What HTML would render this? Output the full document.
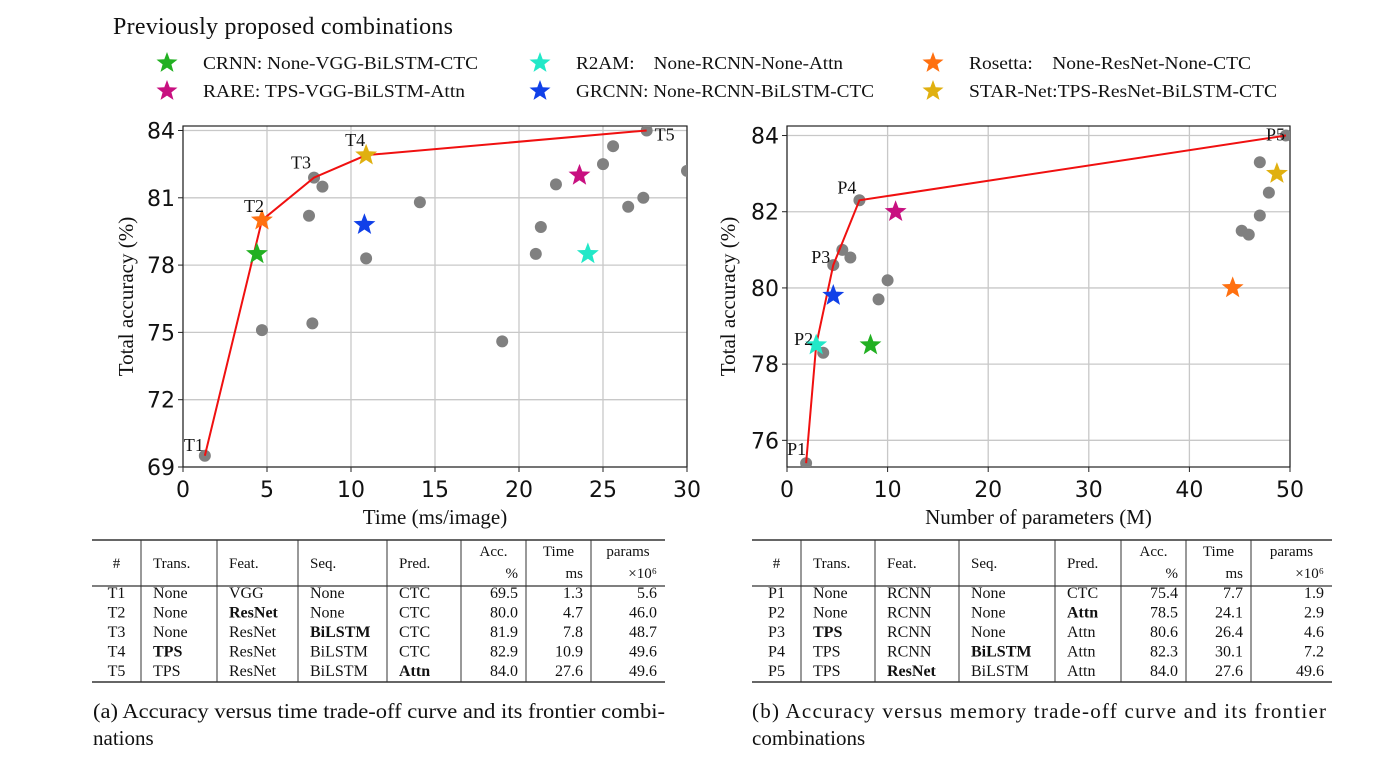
<!DOCTYPE html>
<html><head><meta charset="utf-8">
<style>
html,body{margin:0;padding:0;background:#fff;}
svg{display:block;}
.serif{font-family:"Liberation Serif",serif;}
.sans{font-family:"DejaVu Sans","Liberation Sans",sans-serif;}
</style></head>
<body>
<svg id="root" width="1398" height="763" viewBox="0 0 1398 763" xmlns="http://www.w3.org/2000/svg">
<g id="legend"></g>
<g id="chartA"></g>
<g id="chartB"></g>
<g id="tables"></g>
</svg>
<script>
// ---------- data ----------
const legendNames = ["CRNN: None-VGG-BiLSTM-CTC","R2AM:    None-RCNN-None-Attn","Rosetta:    None-ResNet-None-CTC","RARE: TPS-VGG-BiLSTM-Attn","GRCNN: None-RCNN-BiLSTM-CTC","STAR-Net:TPS-ResNet-BiLSTM-CTC"];
const legendColors = ["#22b022","#22e8c8","#ff7010","#c81080","#1040e8","#e0b010"];

// Chart A: time vs accuracy
const aTicksX = [0,5,10,15,20,25,30];
const aTicksY = [69,72,75,78,81,84];
const aDotsX = [1.3,4.7,7.7,7.5,7.8,8.3,10.9,14.1,19.0,21.0,21.3,22.2,25.0,25.6,27.6,27.4,26.5,30.0];
const aDotsY = [69.5,75.1,75.4,80.2,81.9,81.5,78.3,80.8,74.6,78.5,79.7,81.6,82.5,83.3,84.0,81.0,80.6,82.2];
const aFrontX = [1.3,4.7,7.8,10.9,27.6];
const aFrontY = [69.5,80.0,81.9,82.9,84.0];
const aFrontLabels = ["T1","T2","T3","T4","T5"];
// stars order: CRNN, R2AM, Rosetta, RARE, GRCNN, STAR-Net
const aStarX = [4.4,24.1,4.7,23.6,10.8,10.9];
const aStarY = [78.5,78.5,80.0,82.0,79.8,82.9];

// Chart B: params vs accuracy
const bTicksX = [0,10,20,30,40,50];
const bTicksY = [76,78,80,82,84];
const bDotsX = [1.9,3.6,4.6,5.5,6.3,7.2,9.1,10.0,45.2,45.9,47.0,47.0,47.9,49.6];
const bDotsY = [75.4,78.3,80.6,81.0,80.8,82.3,79.7,80.2,81.5,81.4,81.9,83.3,82.5,84.0];
const bFrontX = [1.9,2.9,4.6,7.2,49.6];
const bFrontY = [75.4,78.5,80.6,82.3,84.0];
const bFrontLabels = ["P1","P2","P3","P4","P5"];
const bStarX = [8.3,2.9,44.3,10.8,4.6,48.7];
const bStarY = [78.5,78.5,80.0,82.0,79.8,83.0];

const tableHeader = ["#","Trans.","Feat.","Seq.","Pred.","Acc.|%","Time|ms","params|×10⁶"];
const tableA = [
 ["T1","None","VGG","None","CTC","69.5","1.3","5.6"],
 ["T2","None","*ResNet","None","CTC","80.0","4.7","46.0"],
 ["T3","None","ResNet","*BiLSTM","CTC","81.9","7.8","48.7"],
 ["T4","*TPS","ResNet","BiLSTM","CTC","82.9","10.9","49.6"],
 ["T5","TPS","ResNet","BiLSTM","*Attn","84.0","27.6","49.6"]];
const tableB = [
 ["P1","None","RCNN","None","CTC","75.4","7.7","1.9"],
 ["P2","None","RCNN","None","*Attn","78.5","24.1","2.9"],
 ["P3","*TPS","RCNN","None","Attn","80.6","26.4","4.6"],
 ["P4","TPS","RCNN","*BiLSTM","Attn","82.3","30.1","7.2"],
 ["P5","TPS","*ResNet","BiLSTM","Attn","84.0","27.6","49.6"]];

// ---------- helpers ----------
const NS="http://www.w3.org/2000/svg";
function mk(tag,attrs,parent){const e=document.createElementNS(NS,tag);for(const k in attrs)e.setAttribute(k,attrs[k]);parent.appendChild(e);return e;}
function txt(s,attrs,parent){const e=mk("text",attrs,parent);e.textContent=s;return e;}
function starPts(cx,cy,R){const r=R*0.42;let p=[];for(let i=0;i<10;i++){const a=-Math.PI/2+i*Math.PI/5;const rr=i%2?r:R;p.push((cx+rr*Math.cos(a)).toFixed(1)+","+(cy+rr*Math.sin(a)).toFixed(1));}return p.join(" ");}

// ---------- legend ----------
const L=document.getElementById("legend");
let t=txt("Previously proposed combinations",{x:113,y:34,"font-size":24,class:"serif",fill:"#111",textLength:340},L);


const legX=[167,540,933], legY=[63,91];
const legLen=[275,267,282,262,298,308];
legendNames.forEach((n,i)=>{
  const cx=legX[i%3], cy=legY[Math.floor(i/3)];
  const g=mk("g",{},L);
  
  
  mk("polygon",{points:starPts(cx,cy,11),fill:legendColors[i]},g);
  const e=txt(n,{x:cx+36,y:cy+6,"font-size":18,class:"serif",fill:"#111",textLength:legLen[i],lengthAdjust:"spacingAndGlyphs"},g);
  e.style.whiteSpace="pre";
});

// ---------- charts ----------
function chart(gid,cfg){
  const G=document.getElementById(gid);
  const {x0,x1,y0,y1,xmin,xmax,ymin,ymax}=cfg;
  const sx=v=>x0+(v-xmin)/(xmax-xmin)*(x1-x0);
  const sy=v=>y0-(v-ymin)/(ymax-ymin)*(y0-y1);
  const clipId=gid+"clip";
  const defs=mk("defs",{},G);const cp=mk("clipPath",{id:clipId},defs);mk("rect",{x:x0,y:y1,width:x1-x0,height:y0-y1},cp);
  cfg.ticksX.forEach(v=>{
    const l=mk("line",{x1:sx(v),x2:sx(v),y1:y1,y2:y0,stroke:"#c8c8c8","stroke-width":1.3},G);
    
    
    mk("line",{x1:sx(v),x2:sx(v),y1:y0,y2:y0+5,stroke:"#222"},G);
    const tt=txt(String(v),{x:sx(v),y:y0+30,"font-size":22,"text-anchor":"middle",class:"sans",fill:"#111"},G);
    
    
  });
  cfg.ticksY.forEach(v=>{
    const l=mk("line",{x1:x0,x2:x1,y1:sy(v),y2:sy(v),stroke:"#c8c8c8","stroke-width":1.3},G);
    
    
    mk("line",{x1:x0-5,x2:x0,y1:sy(v),y2:sy(v),stroke:"#222"},G);
    const tt=txt(String(v),{x:x0-8,y:sy(v)+8,"font-size":22,"text-anchor":"end",class:"sans",fill:"#111"},G);
    
    
  });
  const fr=mk("rect",{x:x0,y:y1,width:x1-x0,height:y0-y1,fill:"none",stroke:"#222","stroke-width":1.2},G);
  
  
  const P=mk("g",{"clip-path":"url(#"+clipId+")"},G);
  cfg.dx.forEach((v,i)=>{
    const c=mk("circle",{cx:sx(v),cy:sy(cfg.dy[i]),r:6,fill:"#808080"},P);
    
    
  });
  const line=mk("polyline",{points:cfg.fx.map((v,i)=>sx(v)+","+sy(cfg.fy[i])).join(" "),fill:"none",stroke:"#f01010","stroke-width":2},P);
  
  
  cfg.sX.forEach((v,i)=>{
    const s=mk("polygon",{points:starPts(sx(v),sy(cfg.sY[i]),11.5),fill:legendColors[i]},P);
    
    
  });
  cfg.labels.forEach((lab,i)=>{
    const o=cfg.lOff[i];
    const tt=txt(lab,{x:sx(cfg.fx[i])+o[0],y:sy(cfg.fy[i])+o[1],"font-size":18,class:"serif",fill:"#111","text-anchor":o[2]||"start"},G);
    
    
  });
  const xl=txt(cfg.xlabel,{x:(x0+x1)/2,y:y0+57,"font-size":21,"text-anchor":"middle",class:"serif",fill:"#111"},G);
  
  
  const yx=cfg.ylabX, yy=(y0+y1)/2;
  const yl=txt("Total accuracy (%)",{x:yx,y:yy,"font-size":21,"text-anchor":"middle",class:"serif",fill:"#111",transform:"rotate(-90 "+yx+" "+yy+")"},G);
  
  
}
chart("chartA",{x0:183,x1:687,y0:467,y1:126,xmin:0,xmax:30,ymin:69,ymax:84.2,ticksX:aTicksX,ticksY:aTicksY,
  dx:aDotsX,dy:aDotsY,fx:aFrontX,fy:aFrontY,sX:aStarX,sY:aStarY,labels:aFrontLabels,
  lOff:[[-1,-5,"end"],[2,-8,"end"],[-3,-9,"end"],[-1,-9,"end"],[8,10,"start"]],xlabel:"Time (ms/image)",ylabX:133});
chart("chartB",{x0:787,x1:1290,y0:467,y1:126,xmin:0,xmax:50,ymin:75.3,ymax:84.25,ticksX:bTicksX,ticksY:bTicksY,
  dx:bDotsX,dy:bDotsY,fx:bFrontX,fy:bFrontY,sX:bStarX,sY:bStarY,labels:bFrontLabels,
  lOff:[[0,-8,"end"],[-3,0,"end"],[-3,-2,"end"],[-3,-7,"end"],[-1,5,"end"]],xlabel:"Number of parameters (M)",ylabX:735});

// ---------- tables ----------
function table(rows,left,right,vlines,numCols,id){
  const T=document.getElementById("tables");
  const g=mk("g",{},T);
  
  
  const top=540,hb=586,bot=682;
  mk("line",{x1:left,x2:right,y1:top,y2:top,stroke:"#333","stroke-width":1.6},g);
  mk("line",{x1:left,x2:right,y1:hb,y2:hb,stroke:"#333","stroke-width":1.2},g);
  mk("line",{x1:left,x2:right,y1:bot,y2:bot,stroke:"#333","stroke-width":1.6},g);
  vlines.forEach(x=>mk("line",{x1:x,x2:x,y1:top,y2:bot,stroke:"#333","stroke-width":1},g));
  const edges=[left].concat(vlines).concat([right]);
  tableHeader.forEach((h,c)=>{
    const parts=h.split("|");
    if(parts.length==1){
      const cx=c==0?(edges[0]+edges[1])/2:edges[c]+12;
      txt(h,{x:cx,y:568,"font-size":15,class:"serif",fill:"#111","text-anchor":c==0?"middle":"start"},g);
    }else{
      txt(parts[0],{x:(edges[c]+edges[c+1])/2,y:556,"font-size":15,class:"serif",fill:"#111","text-anchor":"middle"},g);
      txt(parts[1],{x:edges[c+1]-8,y:578,"font-size":15,class:"serif",fill:"#111","text-anchor":"end"},g);
    }
  });
  rows.forEach((r,ri)=>{
    const y=598+ri*19.5;
    r.forEach((cell,c)=>{
      let bold=cell[0]=="*";const s=bold?cell.slice(1):cell;
      let a={y:y,"font-size":16,class:"serif",fill:"#111"};
      if(bold)a["font-weight"]="bold";
      if(c==0){a.x=(edges[0]+edges[1])/2;a["text-anchor"]="middle";}
      else if(c>=5){a.x=edges[c+1]-8;a["text-anchor"]="end";}
      else a.x=edges[c]+12;
      const e=txt(s,a,g);
      
      
    });
  });
}
table(tableA,92,665,[141,217,298,387,461,526,591],8,"time-table");
table(tableB,752,1332,[801,875,959,1055,1121,1186,1251],8,"params-table");

const T=document.getElementById("tables");
let c1=txt("(a) Accuracy versus time trade-off curve and its frontier combi-",{x:93,y:718,"font-size":21,class:"serif",fill:"#111",textLength:572,lengthAdjust:"spacingAndGlyphs"},T);


let c1b=txt("nations",{x:93,y:745,"font-size":21,class:"serif",fill:"#111"},T);


let c2=txt("(b) Accuracy versus memory trade-off curve and its frontier",{x:752,y:718,"font-size":21,class:"serif",fill:"#111",textLength:574},T);


let c2b=txt("combinations",{x:752,y:745,"font-size":21,class:"serif",fill:"#111"},T);


</script>
</body></html>
